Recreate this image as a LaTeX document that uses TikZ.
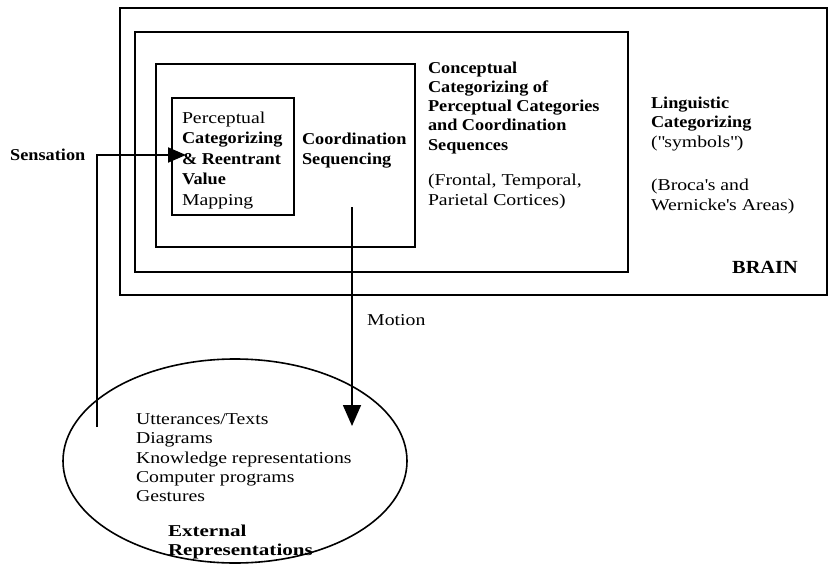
\documentclass[tikz,border=0pt]{standalone}
\usepackage{fontspec}
\setmainfont{Liberation Serif}[FakeStretch=1.19]
\newfontfamily\bfx{Liberation Serif}[FakeStretch=1.10]
\newfontfamily\bfw{Liberation Serif}[FakeStretch=1.27]
\usetikzlibrary{arrows.meta,shapes.geometric}
\begin{document}
\begin{tikzpicture}[x=1pt,y=-1pt,
  frame/.style={draw, line width=1.8pt, inner sep=0pt, outer sep=0pt, anchor=north west},
  txt/.style={inner sep=0pt, outer sep=0pt, align=left, anchor=north west, font=\fontsize{16.6}{19.5}\selectfont},
  boldtxt/.style={txt, font=\bfx\bfseries\fontsize{16.6}{19.5}\selectfont},
  flow/.style={line width=1.8pt, -{Triangle[length=18pt,width=15pt]}}]
\useasboundingbox (0,0) rectangle (829,567);
% boxes
\node[frame, minimum width=707pt, minimum height=287pt] (brain) at (120,8) {};
\node[frame, minimum width=493pt, minimum height=240pt] (conceptbox) at (135,32) {};
\node[frame, minimum width=259pt, minimum height=183pt] (coordbox) at (156,64) {};
\node[frame, minimum width=122pt, minimum height=117pt] (percbox) at (172,98) {};
% ellipse
\node[draw, ellipse, line width=1.6pt, inner sep=0pt, outer sep=0pt, minimum width=344pt, minimum height=204pt] (ext) at (235,461) {};
% texts
\node[txt, font=\fontsize{16.6}{20.5}\selectfont] (perc) at (182,111.5)
  {Perceptual\\ {\bfx\bfseries Categorizing}\\ {\bfx\bfseries \&~Reentrant}\\ {\bfx\bfseries Value}\\ Mapping};
\node[boldtxt, font=\bfx\bfseries\fontsize{16.6}{20.5}\selectfont] (coord) at (302,132.5) {Coordination\\ Sequencing};
\node[boldtxt, font=\bfx\bfseries\fontsize{16.6}{19.3}\selectfont] (concept) at (428,61.5)
  {Conceptual\\ Categorizing of\\ Perceptual Categories\\ and Coordination\\ Sequences};
\node[txt, font=\fontsize{16.6}{20}\selectfont] (cortices) at (428,173.5) {(Frontal, Temporal,\\ Parietal Cortices)};
\node[txt] (ling) at (651,96.5) {{\bfx\bfseries Linguistic}\\ {\bfx\bfseries Categorizing}\\ (\textquotedbl symbols\textquotedbl)};
\node[txt, font=\fontsize{16.6}{20}\selectfont] (broca) at (651,178.5) {(Broca\textquotesingle s and\\ Wernicke\textquotesingle s Areas)};
\node[inner sep=0pt, anchor=base west, font=\bfx\bfseries\fontsize{18.5}{20}\selectfont] (brainlbl) at (732,273) {BRAIN};
\node[inner sep=0pt, anchor=base west, font=\bfx\bfseries\fontsize{16.6}{20}\selectfont] (sens) at (10,160) {Sensation};
\node[inner sep=0pt, anchor=base west, font=\fontsize{16.6}{20}\selectfont] (motion) at (367,325) {Motion};
\node[txt, font=\fontsize{16.6}{19.3}\selectfont] (list) at (136,413.5)
  {Utterances/Texts\\ Diagrams\\ Knowledge representations\\ Computer programs\\ Gestures};
\node[txt, font=\bfw\bfseries\fontsize{16.6}{19}\selectfont] (extlbl) at (168,524.5) {External\\ Representations};
% connectors
\coordinate (sensfoot) at (97,427);
\coordinate (senstip) at (186,155);
\draw[flow, line width=2pt] (sensfoot) |- (senstip);
\coordinate (motstart) at (352,207);
\coordinate (mottip) at (352,426);
\draw[line width=1.6pt, -{Triangle[length=21pt,width=18pt]}] (motstart) -- (mottip);
\end{tikzpicture}
\end{document}
